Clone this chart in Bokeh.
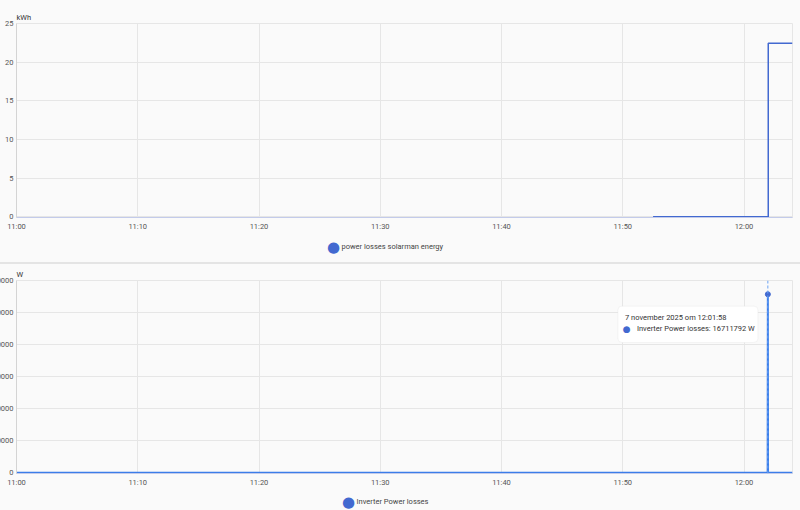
import pandas as pd
from bokeh.plotting import figure
from bokeh.layouts import column
from bokeh.models import (ColumnDataSource, FixedTicker, DatetimeTickFormatter,
                          BasicTickFormatter, Span, BoxAnnotation, Label,
                          Range1d, Div, CDSView, IndexFilter)
from bokeh.embed import file_html
from bokeh.resources import INLINE

# ---------------- data ----------------
DAY = "2025-11-07"
x_tick_labels = ["11:00", "11:10", "11:20", "11:30", "11:40", "11:50", "12:00"]
x_window = ["11:00:00", "12:04:00"]

energy_name = "power losses solarman energy"
energy_unit = "kWh"
energy_times = ["11:52:30", "12:02:00", "12:04:00"]
energy_kwh = [0.0, 22.45, 22.45]
energy_ticks = [0, 5, 10, 15, 20, 25]

loss_name = "Inverter Power losses"
loss_unit = "W"
loss_times = ["11:00:00", "12:01:57", "12:01:58", "12:01:59", "12:04:00"]
loss_w = [0, 0, 16711792, 0, 0]
loss_ticks = [0, 3000000, 6000000, 9000000, 12000000, 15000000, 18000000]

# ---------------- style ----------------
FONT = "Roboto"
BG = "#fafafa"
GRID = "#e6e6e6"
TXT = "#555555"
BLUE = "#4269d0"
BLUE2 = "#3b7de9"
FS = "7.5px"
SHIFT = 34      # part of the figures that lies left of the page
LEFT = 50       # left border of each figure
W = 800 + 2 * SHIFT


def ts(t):
    return pd.Timestamp(f"{DAY} {t}")


def ms(t):
    return ts(t).value / 1e6


x_ticks_ms = [ms(t + ":00") for t in x_tick_labels]


def make_fig(height, y_ticks, unit, min_top, min_bottom):
    pad = (y_ticks[-1] - y_ticks[0]) * 0.004   # keeps the zero line fully visible
    p = figure(width=W, height=height, x_axis_type="datetime",
               output_backend="svg", toolbar_location=None,
               x_range=Range1d(ms(x_window[0]), ms(x_window[1])),
               y_range=Range1d(y_ticks[0] - pad, y_ticks[-1]),
               min_border_left=LEFT, min_border_right=8,
               min_border_top=min_top, min_border_bottom=min_bottom,
               margin=(0, 0, 0, -SHIFT))
    p.background_fill_color = BG
    p.border_fill_color = BG
    p.outline_line_color = GRID
    p.xaxis.ticker = FixedTicker(ticks=x_ticks_ms)
    fmt = "%H:%M"
    p.xaxis.formatter = DatetimeTickFormatter(seconds=fmt, minsec=fmt, minutes=fmt,
                                              hourmin=fmt, hours=fmt)
    p.yaxis.ticker = FixedTicker(ticks=y_ticks)
    p.yaxis.formatter = BasicTickFormatter(use_scientific=False)
    for ax in (p.xaxis[0], p.yaxis[0]):
        ax.major_tick_out = 0
        ax.major_tick_in = 0
        ax.minor_tick_out = 0
        ax.minor_tick_in = 0
        ax.major_label_text_font = FONT
        ax.major_label_text_font_size = FS
        ax.major_label_text_color = TXT
    p.xaxis.major_label_standoff = 4
    p.yaxis.major_label_standoff = 3
    p.yaxis.axis_line_color = "#d4d4d4"
    p.xaxis.axis_line_color = "#c3cbea"
    p.grid.grid_line_color = GRID
    p.title.text = unit
    p.title.align = "left"
    p.title.text_font = FONT
    p.title.text_font_size = FS
    p.title.text_font_style = "normal"
    p.title.text_color = "#333333"
    p.title.standoff = 3
    return p


def legend_strip(height, label, dot_x, text_x, y):
    """A thin strip under a chart that carries its legend (swatch + name)."""
    s = figure(width=W, height=height, output_backend="svg", toolbar_location=None,
               x_axis_location=None, y_axis_location=None,
               x_range=Range1d(16, 792), y_range=Range1d(0, height),
               min_border_left=LEFT, min_border_right=8,
               min_border_top=0, min_border_bottom=0,
               margin=(0, 0, 0, -SHIFT))
    s.background_fill_color = BG
    s.border_fill_color = BG
    s.outline_line_color = None
    s.grid.visible = False
    s.add_layout(Label(x=dot_x, y=y, text="●", text_font="DejaVu Sans",
                       text_font_size="15px", text_color=BLUE,
                       text_align="center", text_baseline="middle"))
    s.add_layout(Label(x=text_x, y=y, text=label, text_font=FONT,
                       text_font_size=FS, text_color="#444444",
                       text_baseline="middle"))
    return s


# ---------------- top chart ----------------
top = make_fig(234, energy_ticks, energy_unit, 23, 17)
src_e = ColumnDataSource(dict(t=[ts(t) for t in energy_times], v=energy_kwh))
top.step("t", "v", source=src_e, mode="after", line_color=BLUE, line_width=1.5)
top_leg = legend_strip(28, energy_name, 333, 341, 16)

# ---------------- bottom chart ----------------
bot = make_fig(226, loss_ticks, loss_unit, 16, 17)
src_l = ColumnDataSource(dict(t=[ts(t) for t in loss_times], v=loss_w))
peak = max(range(len(loss_w)), key=lambda i: loss_w[i])
bot.add_layout(Span(location=ms(loss_times[peak]), dimension="height",
                    line_color="#6aa2f4", line_dash="3 2", line_width=1))
bot.line("t", "v", source=src_l, line_color=BLUE2, line_width=2)
bot.scatter("t", "v", source=src_l, view=CDSView(filter=IndexFilter([peak])),
            marker="circle", size=5, fill_color=BLUE, line_color=BLUE)
bot_leg = legend_strip(20, loss_name, 348, 356, 9)

# tooltip
bot.add_layout(BoxAnnotation(left=ms("11:49:36"), right=ms("12:01:09"),
                             top=15.6e6, bottom=12.2e6,
                             fill_color="white", fill_alpha=1,
                             line_color="#dddddd", line_width=1,
                             border_radius=4))
tip_time = f"{int(ts(loss_times[peak]).day)} november {ts(loss_times[peak]).year} om {loss_times[peak]}"
bot.add_layout(Label(x=ms("11:50:11"), y=14.5e6, text=tip_time,
                     text_font=FONT, text_font_size=FS, text_color="#333333",
                     text_baseline="middle"))
bot.add_layout(Label(x=ms("11:50:20"), y=13.5e6, text="●",
                     text_font="DejaVu Sans", text_font_size="9px", text_color=BLUE,
                     text_baseline="middle", text_align="center"))
bot.add_layout(Label(x=ms("11:51:10"), y=13.5e6,
                     text=f"{loss_name}: {loss_w[peak]} {loss_unit}",
                     text_font=FONT, text_font_size=FS, text_color="#333333",
                     text_baseline="middle"))

sep = Div(width=800, height=2, margin=0, styles={"background-color": "#e4e4e4"})

page = column(top, top_leg, sep, bot, bot_leg, spacing=0,
              styles={"position": "absolute", "left": "0px", "top": "0px",
                      "background-color": BG})

open("out.html", "w").write(file_html(page, INLINE))
